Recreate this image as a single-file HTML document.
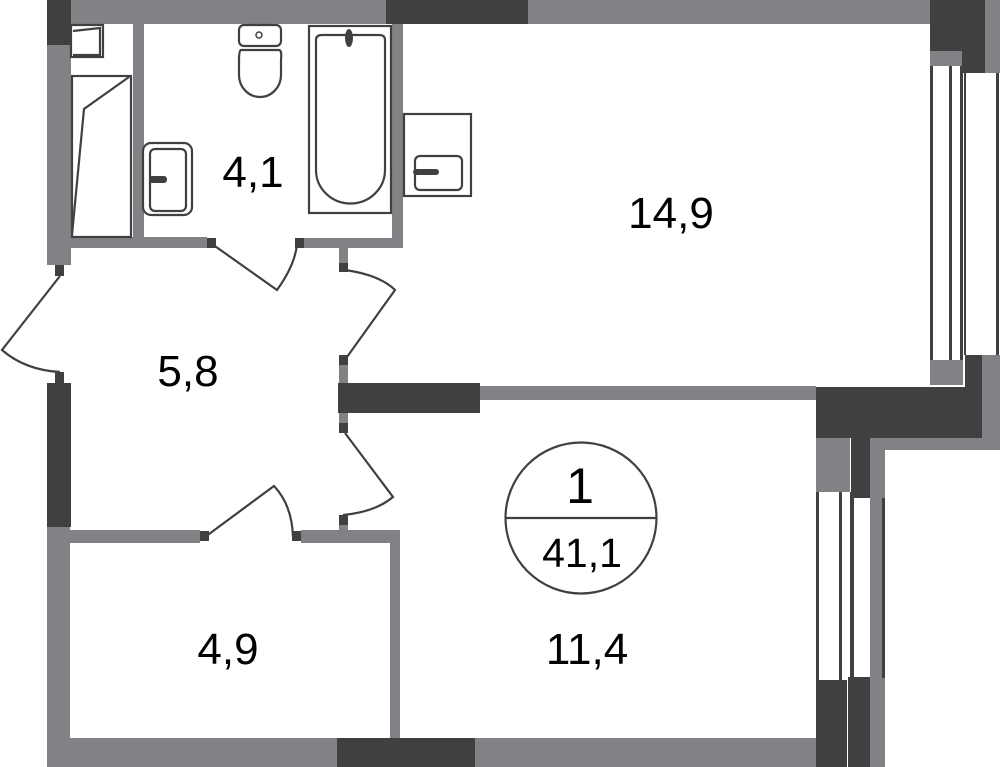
<!DOCTYPE html>
<html><head><meta charset="utf-8"><style>html,body{margin:0;padding:0;background:#fff}svg{display:block}text{font-family:"Liberation Sans",Arial,sans-serif;fill:#000}</style></head>
<body>
<svg width="1000" height="767" viewBox="0 0 1000 767" xmlns="http://www.w3.org/2000/svg">
<g fill="#818285">
<rect x="47" y="0" width="883" height="24"/>
<rect x="47" y="45" width="24" height="220"/>
<rect x="133" y="24" width="11" height="223"/>
<rect x="71" y="237" width="136" height="11"/>
<rect x="303" y="238" width="100" height="10"/>
<rect x="392" y="24" width="11" height="224"/>
<rect x="339" y="248" width="9" height="15"/>
<rect x="339" y="365" width="9" height="18"/>
<rect x="339" y="413" width="9" height="10"/>
<rect x="339" y="525" width="9" height="6"/>
<rect x="480" y="386" width="336" height="14"/>
<rect x="47" y="527" width="23" height="240"/>
<rect x="70" y="530" width="130" height="13"/>
<rect x="301" y="530" width="99" height="13"/>
<rect x="390" y="530" width="10" height="208"/>
<rect x="47" y="738" width="290" height="29"/>
<rect x="475" y="738" width="341" height="29"/>
<rect x="930" y="51" width="33" height="15"/>
<rect x="985" y="0" width="15" height="73"/>
<rect x="930" y="360" width="33" height="25"/>
<rect x="982" y="355" width="18" height="95"/>
<rect x="870" y="438" width="130" height="12"/>
<rect x="870" y="438" width="15" height="329"/>
<rect x="816" y="421" width="34" height="71"/>
</g>
<g fill="#404040">
<rect x="47" y="0" width="24" height="45"/>
<rect x="386" y="0" width="142" height="24"/>
<rect x="930" y="0" width="55" height="51"/>
<rect x="962" y="0" width="23" height="73"/>
<rect x="965" y="355" width="17" height="35"/>
<rect x="816" y="387" width="166" height="51"/>
<rect x="851" y="421" width="19" height="77"/>
<rect x="338" y="383" width="142" height="30"/>
<rect x="47" y="383" width="24" height="144"/>
<rect x="337" y="738" width="138" height="29"/>
<rect x="816" y="680" width="31" height="87"/>
<rect x="848" y="677" width="22" height="90"/>
<rect x="207" y="238" width="9" height="10"/>
<rect x="295" y="238" width="9" height="10"/>
<rect x="339" y="263" width="9" height="9"/>
<rect x="339" y="355" width="9" height="10"/>
<rect x="339" y="423" width="9" height="10"/>
<rect x="339" y="515" width="9" height="10"/>
<rect x="55" y="265" width="9" height="11"/>
<rect x="55" y="372" width="9" height="11"/>
<rect x="200" y="531" width="9" height="10"/>
<rect x="292" y="531" width="9" height="10"/>
<rect x="930" y="66" width="3" height="294"/>
<rect x="949" y="66" width="3" height="294"/>
<rect x="960" y="66" width="3" height="294"/>
<rect x="964" y="73" width="2" height="282"/>
<rect x="996" y="73" width="3" height="282"/>
<rect x="816" y="492" width="3" height="188"/>
<rect x="839" y="492" width="3" height="188"/>
<rect x="850" y="492" width="2" height="188"/>
<rect x="852" y="498" width="2" height="180"/>
<rect x="882" y="498" width="3" height="180"/>
</g>
<g fill="none" stroke="#404040" stroke-width="2.2">
<path d="M212 244 L277 290 Q295 265 297 244"/>
<path d="M345 270 Q380 275 395 290 L347 357"/>
<path d="M60 276 L2 350 Q25 370 60 372"/>
<path d="M345 433 L393 497 Q375 512 343 515"/>
<path d="M205 537 L274 486 Q292 505 293 537"/>
<rect x="71" y="25" width="32" height="32"/>
<path d="M73 31 L100 28 L100 55 L73 55"/>
<rect x="72" y="76" width="59" height="161"/>
<path d="M72 235 L84 109 L129 77"/>
<rect x="239" y="25" width="42" height="21" rx="5"/>
<path d="M241 50 L279 50 Q282 50 281 60 L281 75 A21 22 0 0 1 239 75 L239 60 Q239 50 241 50Z"/>
<rect x="309" y="26" width="82" height="187"/>
<path d="M316 40 Q316 35 322 35 L379 35 Q385 35 385 40 L385 170 A34 33 0 0 1 316 170Z"/>
<rect x="404" y="114" width="67" height="82"/>
<rect x="415" y="156" width="47" height="34" rx="5"/>
<rect x="143" y="143" width="49" height="72" rx="8"/>
<rect x="150" y="149" width="36" height="62" rx="5"/>
<circle cx="581" cy="518" r="75.5"/>
<line x1="505" y1="518" x2="657" y2="518"/>
</g>
<circle cx="259" cy="35" r="3" fill="none" stroke="#404040" stroke-width="1.5"/>
<ellipse cx="349" cy="38" rx="4" ry="9" fill="#404040"/>
<rect x="413" y="169" width="26" height="6" rx="3" fill="#404040"/>
<rect x="149" y="176" width="18" height="7" rx="3" fill="#404040"/>
<text x="253" y="187" font-size="44" text-anchor="middle">4,1</text>
<text x="671" y="228" font-size="44" text-anchor="middle">14,9</text>
<text x="188" y="386" font-size="44" text-anchor="middle">5,8</text>
<text x="228" y="664" font-size="44" text-anchor="middle">4,9</text>
<text x="587" y="664" font-size="44" text-anchor="middle">11,4</text>
<text x="580" y="503" font-size="50" text-anchor="middle">1</text>
<text x="582" y="567" font-size="41" text-anchor="middle">41,1</text>
</svg>
</body></html>
